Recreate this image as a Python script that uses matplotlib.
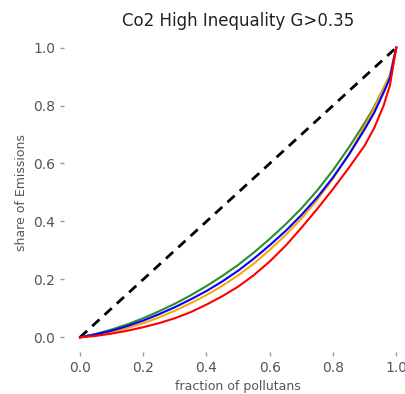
import numpy as np
import matplotlib.pyplot as plt

# fraction of pollutants (x) and cumulative share of emissions per group
frac = [0.0, 0.05, 0.1, 0.15, 0.2, 0.25, 0.3, 0.35, 0.4, 0.45, 0.5, 0.55,
        0.6, 0.65, 0.7, 0.75, 0.8, 0.85, 0.9, 0.93, 0.96, 0.98, 1.0]
share_green = [0.0, 0.012, 0.027, 0.045, 0.066, 0.09, 0.116, 0.145, 0.177, 0.212, 0.25, 0.293,
               0.34, 0.39, 0.445, 0.507, 0.577, 0.655, 0.74, 0.795, 0.86, 0.905, 1.0]
share_orange = [0.0, 0.007, 0.018, 0.032, 0.049, 0.069, 0.092, 0.118, 0.146, 0.178, 0.214, 0.255,
                0.302, 0.353, 0.41, 0.474, 0.548, 0.632, 0.728, 0.79, 0.858, 0.905, 1.0]
share_blue = [0.0, 0.01, 0.023, 0.039, 0.058, 0.08, 0.104, 0.131, 0.16, 0.193, 0.23, 0.272,
              0.318, 0.367, 0.422, 0.483, 0.552, 0.63, 0.718, 0.775, 0.845, 0.895, 1.0]
share_red = [0.0, 0.005, 0.013, 0.023, 0.035, 0.049, 0.066, 0.087, 0.113, 0.142, 0.175, 0.215,
             0.262, 0.316, 0.378, 0.443, 0.512, 0.585, 0.662, 0.722, 0.80, 0.87, 1.0]
diag = [0.0, 1.0]

fig = plt.figure(figsize=(4.06, 3.94), dpi=100)
ax = fig.add_axes([0.158, 0.107, 0.857, 0.809])

ax.plot(diag, diag, '--', color='black', lw=2, dashes=(3.5, 2.5))
ax.plot(frac, share_green, color='#2e8b2e', lw=1.5)
ax.plot(frac, share_orange, color='orange', lw=1.5)
ax.plot(frac, share_blue, color='blue', lw=1.5)
ax.plot(frac, share_red, color='red', lw=1.5)

ax.set_xlim(-0.05, 1.05)
ax.set_ylim(-0.05, 1.05)
ax.set_xticks([0.0, 0.2, 0.4, 0.6, 0.8, 1.0])
ax.set_yticks([0.0, 0.2, 0.4, 0.6, 0.8, 1.0])
for s in ax.spines.values():
    s.set_visible(False)
ax.tick_params(colors='#999999', labelcolor='#555555', labelsize=10, length=3, width=1)

ax.set_title('Co2 High Inequality G>0.35', fontsize=12, color='#222222', pad=5)
ax.set_xlabel('fraction of pollutans', fontsize=9, color='#555555')
ax.set_ylabel('share of Emissions', fontsize=9, color='#555555')

plt.savefig('out.png', dpi=100)
